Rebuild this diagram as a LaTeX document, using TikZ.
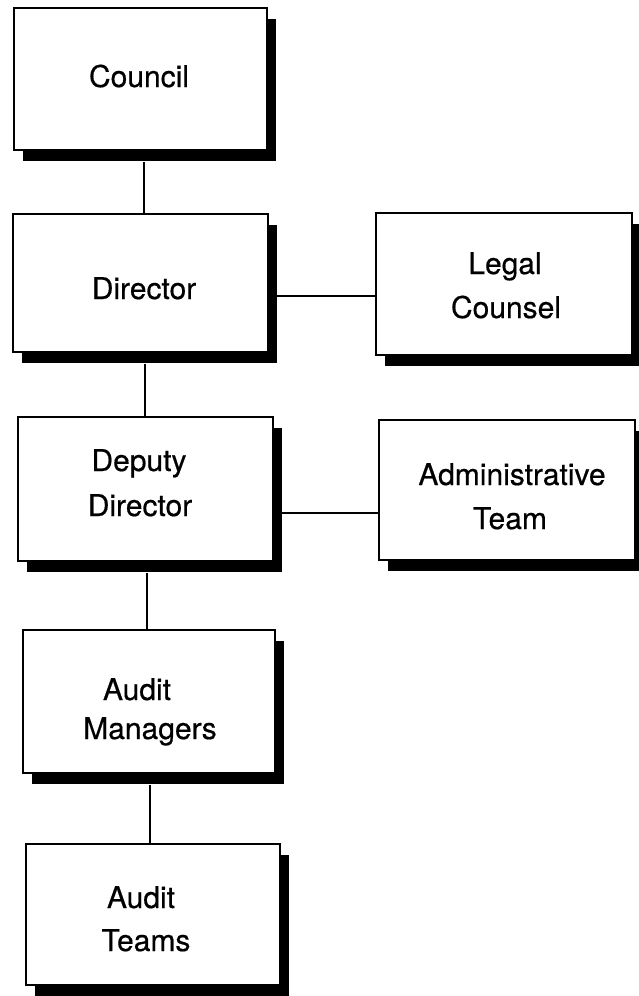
\documentclass[tikz,border=0pt]{standalone}
\usepackage{fontspec}
\setmainfont{TeX Gyre Heros}[FakeBold=0.5]
\usetikzlibrary{shadows}
\begin{document}
\begin{tikzpicture}[x=1pt,y=-1pt,
  orgbox/.style={draw=black, line width=1.3pt, fill=white, inner sep=0pt,
    drop shadow={shadow xshift=9pt, shadow yshift=-11pt, fill=black, opacity=1}},
  lbl/.style={anchor=base, inner sep=0pt, font=\fontsize{30}{36}\selectfont},
  conn/.style={draw=black, line width=1.3pt}]
\useasboundingbox (0,0) rectangle (639,996);
\node[orgbox, minimum width=253pt, minimum height=142pt] (council) at (140.5,79) {};
\node[orgbox, minimum width=255pt, minimum height=138pt] (director) at (140.5,283) {};
\node[orgbox, minimum width=256pt, minimum height=142pt] (legal) at (504,284) {};
\node[orgbox, minimum width=255pt, minimum height=144pt] (deputy) at (145.5,489) {};
\node[orgbox, minimum width=256pt, minimum height=140pt] (admin) at (507,490) {};
\node[orgbox, minimum width=252pt, minimum height=143pt] (managers) at (149,701.5) {};
\node[orgbox, minimum width=254pt, minimum height=141pt] (teams) at (153,914.5) {};
\node[lbl] (councilT) at (139,87) {Council};
\node[lbl] (directorT) at (144,299) {Director};
\node[lbl] (legalT1) at (505,274) {Legal};
\node[lbl] (legalT2) at (506,318) {Counsel};
\node[lbl] (deputyT1) at (139,471) {Deputy};
\node[lbl] (deputyT2) at (140,516) {Director};
\node[lbl] (adminT1) at (512,485) {Administrative};
\node[lbl] (adminT2) at (510,529) {Team};
\node[lbl] (managersT1) at (137,700) {Audit};
\node[lbl] (managersT2) at (150,739) {Managers};
\node[lbl] (teamsT1) at (141,908) {Audit};
\node[lbl] (teamsT2) at (146,951) {Teams};
\draw[conn] ([yshift=-11pt]council.south -| 144,0) -- (director.north -| 144,0);
\draw[conn] ([yshift=-11pt]director.south -| 145,0) -- (deputy.north -| 145,0);
\draw[conn] ([yshift=-11pt]deputy.south -| 147,0) -- (managers.north -| 147,0);
\draw[conn] ([yshift=-11pt]managers.south -| 150,0) -- (teams.north -| 150,0);
\draw[conn] (director.east |- 0,296) -- (legal.west |- 0,296);
\draw[conn] (deputy.east |- 0,513) -- (admin.west |- 0,513);
\end{tikzpicture}
\end{document}
